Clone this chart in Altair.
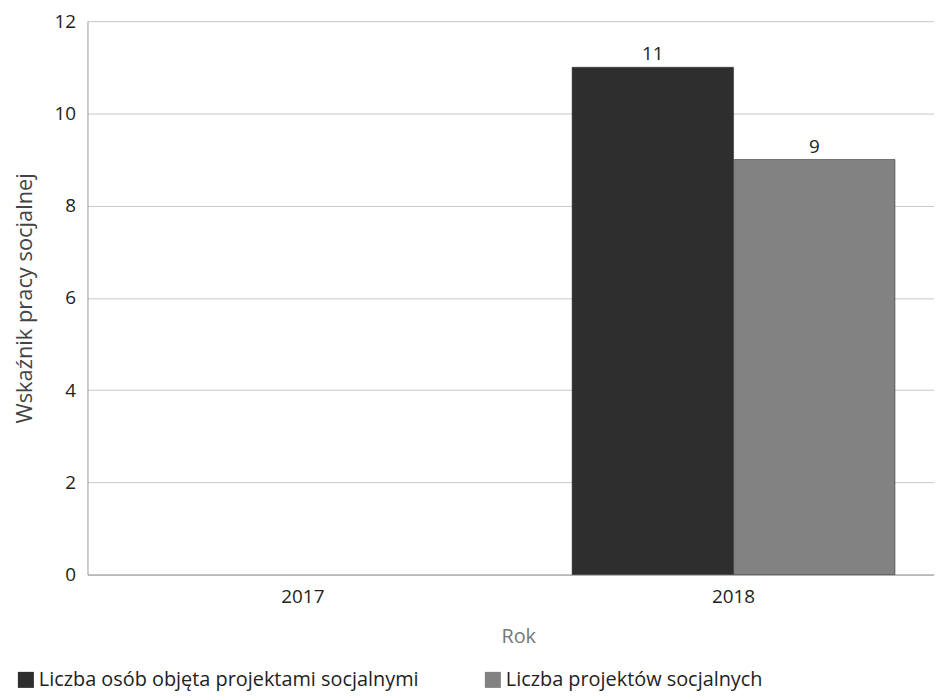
import altair as alt
import pandas as pd

years = ["2017", "2018"]
series = ["Liczba osób objęta projektami socjalnymi", "Liczba projektów socjalnych"]
values_persons = [None, 11]
values_projects = [None, 9]
colors = ["#2e2e2e", "#828282"]

rows = []
for i, y in enumerate(years):
    rows.append({"Rok": y, "seria": series[0], "value": values_persons[i]})
    rows.append({"Rok": y, "seria": series[1], "value": values_projects[i]})
df = pd.DataFrame(rows)

FONT = "Open Sans"

base = alt.Chart(df).transform_filter("datum.value != null")

x = alt.X("Rok:N", title="Rok",
          scale=alt.Scale(domain=years, paddingInner=0, paddingOuter=0, range=[0, 867]),
          axis=alt.Axis(labelAngle=0, ticks=False, labelFontSize=19, labelColor="#222",
                        labelPadding=13, titleFontSize=20, titleColor="#777",
                        titleFontWeight="normal", titlePadding=20, domainColor="#999",
                        grid=False, labelFont=FONT, titleFont=FONT))
xo = alt.XOffset("seria:N", scale=alt.Scale(domain=series, paddingOuter=0.334, paddingInner=0))
y = alt.Y("value:Q", title="Wskaźnik pracy socjalnej",
          scale=alt.Scale(domain=[0, 12]),
          axis=alt.Axis(values=[0, 2, 4, 6, 8, 10, 12], ticks=False, labelFontSize=19,
                        labelColor="#222", labelPadding=12, titleFontSize=22,
                        titleColor="#444", titleFontWeight="normal", titlePadding=18,
                        gridColor="#c8c8c8", domainColor="#999",
                        labelFont=FONT, titleFont=FONT))

bars = base.mark_bar(stroke="#222", strokeWidth=0.5).encode(
    x=x, xOffset=xo, y=y,
    color=alt.Color("seria:N", scale=alt.Scale(domain=series, range=colors),
                    legend=alt.Legend(title=None, orient="none", direction="horizontal",
                                      legendX=-72, legendY=653, symbolType="square",
                                      symbolSize=260, symbolStrokeWidth=0,
                                      labelFontSize=20, labelColor="#222", labelLimit=0,
                                      labelFont=FONT, columnPadding=64, labelOffset=3)),
)

labels = base.mark_text(dy=-13, fontSize=19, font=FONT, color="#222").encode(
    x=x, xOffset=xo, y=y, text=alt.Text("value:Q", format="d"),
)

chart = (bars + labels).properties(
    width=852, height=557,
    padding={"left": 80, "top": 11, "right": 0, "bottom": 120},
    autosize=alt.AutoSizeParams(type="none"),
).configure_view(stroke=None).configure_axis(grid=True)

chart.save("out.html", embed_options={"renderer": "svg", "actions": False})
